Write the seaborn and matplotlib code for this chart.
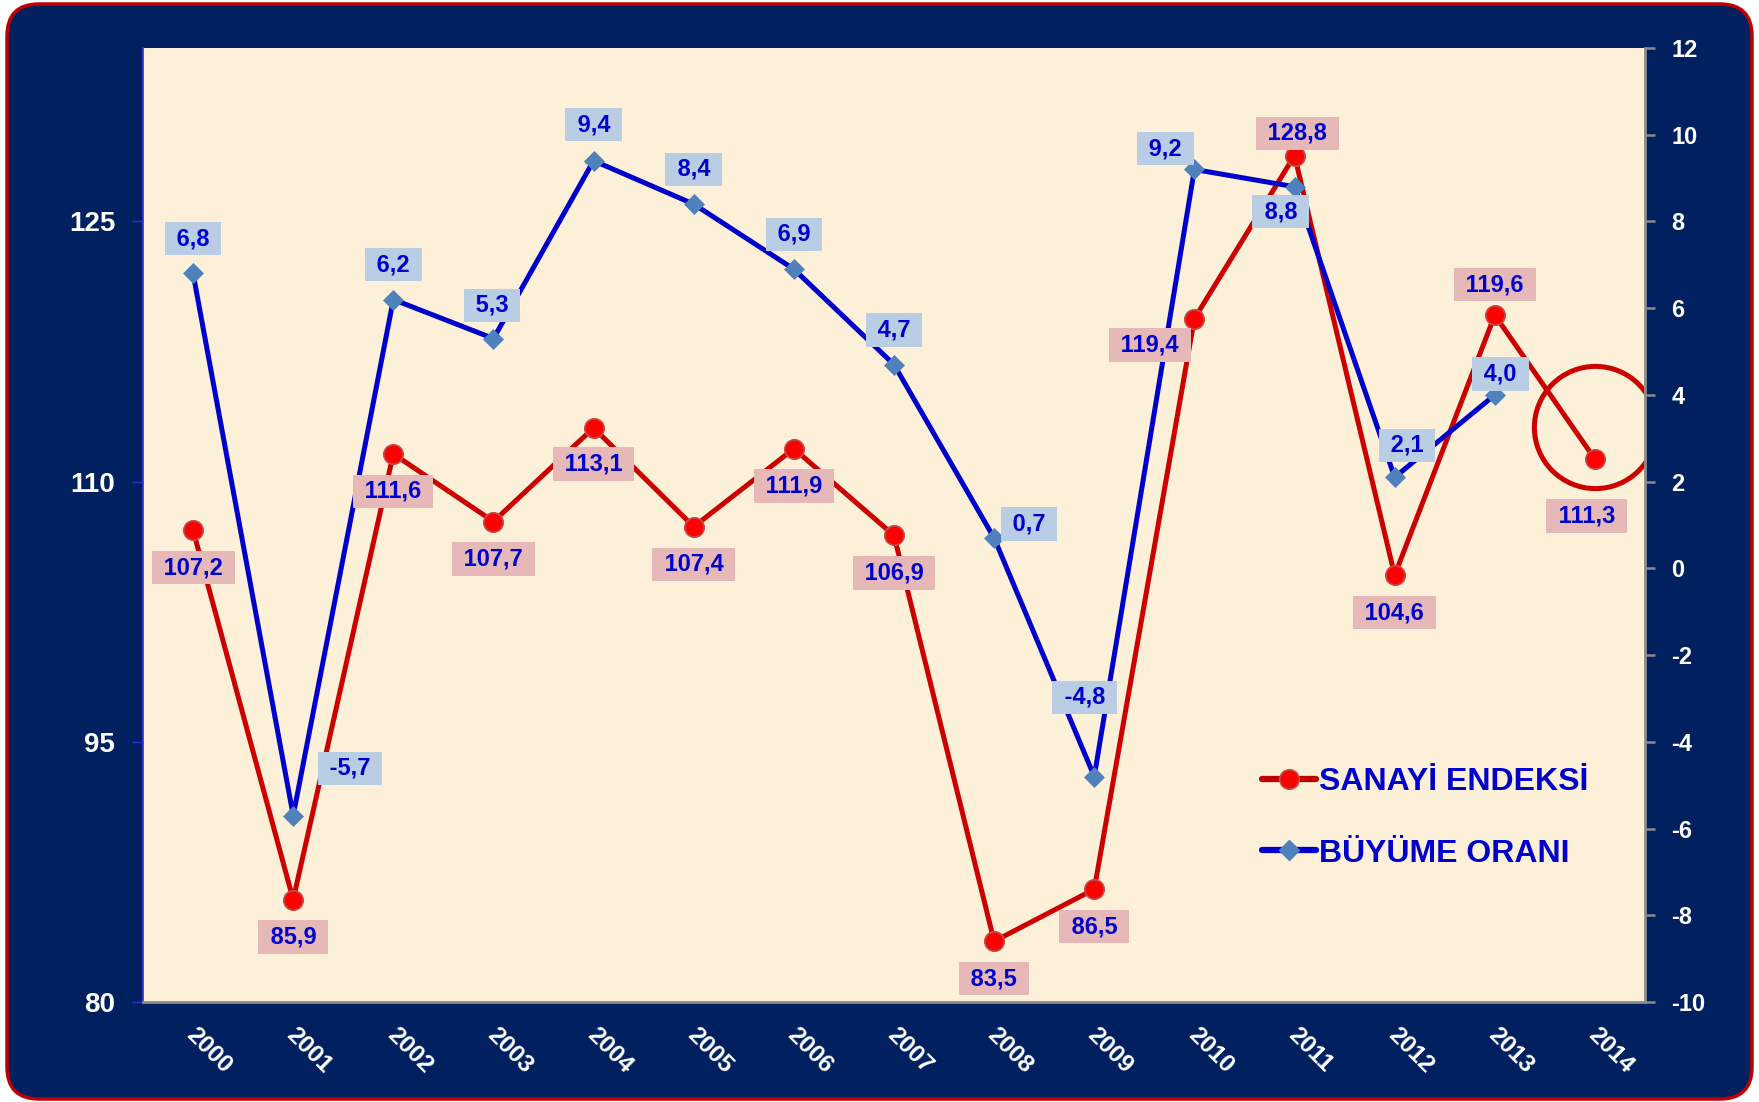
import matplotlib
matplotlib.use('Agg')
import matplotlib.pyplot as plt
import matplotlib.transforms as mtransforms
from matplotlib.patches import FancyBboxPatch
from matplotlib.lines import Line2D
import seaborn as sns
import pandas as pd
import numpy as np

# ---------------- data ----------------
years = ['2000', '2001', '2002', '2003', '2004', '2005', '2006', '2007',
         '2008', '2009', '2010', '2011', '2012', '2013', '2014']
sanayi = [107.2, 85.9, 111.6, 107.7, 113.1, 107.4, 111.9, 106.9,
          83.5, 86.5, 119.4, 128.8, 104.6, 119.6, 111.3]
buyume = [6.8, -5.7, 6.2, 5.3, 9.4, 8.4, 6.9, 4.7,
          0.7, -4.8, 9.2, 8.8, 2.1, 4.0, np.nan]
left_ticks = [80, 95, 110, 125]
right_ticks = [-10, -8, -6, -4, -2, 0, 2, 4, 6, 8, 10, 12]
series_names = ['SANAYİ ENDEKSİ', 'BÜYÜME ORANI']

# label offsets (points) relative to each point
buyume_off = [(0, 25), (41, 34), (0, 25), (-1, 24), (0, 26), (0, 25), (0, 25),
              (0, 25), (25, 10), (-7, 57), (-21, 15), (-10, -18), (9, 23), (4, 15)]
sanayi_off = [(0, -27), (0, -27), (0, -27), (0, -27), (0, -26), (0, -27), (0, -27),
              (0, -27), (0, -27), (0, -27), (-32, -19), (2, 16), (0, -27), (0, 22),
              (-6, -41)]

NAVY = '#002060'
RED_LINE = '#cc0000'
RED_MK = '#ff0000'
BLUE_LINE = '#0000cc'
BLUE_MK = '#4f81bd'
TXT_BLUE = '#0000cc'
BOX_BLUE = '#b9cde5'
BOX_RED = '#e6b9b8'
CREAM = '#fcf0d8'
GREY = '#8c8c8c'

sns.set_theme(style='white')
plt.rcParams['font.family'] = ['Liberation Sans', 'DejaVu Sans']
plt.rcParams['font.weight'] = 'bold'

fig = plt.figure(figsize=(17.59, 11.02), dpi=100)
fig.patch.set_facecolor('white')

# rounded navy panel with red border
panel = FancyBboxPatch((0.07, 0.03), 17.45, 10.95,
                       boxstyle='round,pad=0,rounding_size=0.32',
                       transform=fig.dpi_scale_trans,
                       facecolor=NAVY, edgecolor='#c00000', linewidth=2.5,
                       zorder=-10)
fig.patches.append(panel)

ax = fig.add_axes([143 / 1759, 1 - 1002 / 1102, (1645 - 143) / 1759, (1002 - 48) / 1102])
ax.set_facecolor(CREAM)
ax2 = ax.twinx()

df = pd.DataFrame({'pos': np.arange(len(years)), 'year': years,
                   'sanayi': sanayi, 'buyume': buyume})

sns.lineplot(data=df, x='pos', y='sanayi', ax=ax, color=RED_LINE, linewidth=3.6,
             marker='o', markersize=14, markerfacecolor=RED_MK,
             markeredgecolor='#c0504d', markeredgewidth=1.2, legend=False)
sns.lineplot(data=df.dropna(), x='pos', y='buyume', ax=ax2, color=BLUE_LINE,
             linewidth=3.6, marker='D', markersize=10, markerfacecolor=BLUE_MK,
             markeredgecolor=BLUE_MK, markeredgewidth=0.5, legend=False)

# highlight circle around last point
circ_tr = ax.transData + mtransforms.ScaledTranslation(0, 32 / 100, fig.dpi_scale_trans)
ax.plot([df['pos'].iloc[-1]], [sanayi[-1]], marker='o', markersize=88,
        markerfacecolor='none', markeredgecolor=RED_LINE, markeredgewidth=3.6,
        transform=circ_tr, zorder=5)

# axes limits
ax.set_xlim(-0.5, len(years) - 0.5)
ax.set_ylim(80, 135)
ax2.set_ylim(-10, 12)

# x ticks
ax.set_xticks(np.arange(len(years)))
ax.set_xticklabels(years, rotation=-45, ha='center', va='top',
                   fontsize=17.5, fontweight='bold', color='white')
ax.set_xticks(np.arange(-0.5, len(years), 1.0), minor=True)
ax.tick_params(axis='x', which='major', length=0, pad=15)
ax.tick_params(axis='x', which='minor', length=7, width=1.8, color=GREY, direction='out')
for lbl in ax.get_xticklabels():
    lbl.set_transform(lbl.get_transform() +
                      mtransforms.ScaledTranslation(16 / 100, 0, fig.dpi_scale_trans))

# left y ticks
ax.set_yticks(left_ticks)
ax.set_yticklabels([str(t) for t in left_ticks], fontsize=20, fontweight='bold', color='white')
ax.tick_params(axis='y', which='major', length=8, width=1, color='#3333cc',
               direction='out', pad=12, left=True)

# right y ticks
ax2.set_yticks(right_ticks)
ax2.set_yticklabels([str(t) for t in right_ticks], fontsize=17, fontweight='bold', color='white')
ax2.tick_params(axis='y', which='major', length=7, width=1.8, color=GREY,
                direction='out', pad=12, right=True)

ax.set_xlabel('')
ax.set_ylabel('')
ax2.set_ylabel('')

# spines
for a in (ax, ax2):
    for s in a.spines.values():
        s.set_visible(False)
ax.spines['left'].set_visible(True)
ax.spines['left'].set_color('#3333dd')
ax.spines['left'].set_linewidth(1.2)
ax.spines['bottom'].set_visible(True)
ax.spines['bottom'].set_color(GREY)
ax.spines['bottom'].set_linewidth(2)
ax2.spines['right'].set_visible(True)
ax2.spines['right'].set_color(GREY)
ax2.spines['right'].set_linewidth(2)
ax.grid(False)
ax2.grid(False)


def fmt(v):
    return ('%.1f' % v).replace('.', ',')


# data labels
for i, v in enumerate(sanayi):
    dx, dy = sanayi_off[i]
    ax2.annotate(' ' + fmt(v) + ' ', xy=(i, v), xycoords=ax.transData,
                 xytext=(dx, dy), textcoords='offset points',
                 ha='center', va='center', fontsize=17, fontweight='bold',
                 color=TXT_BLUE, zorder=20,
                 bbox=dict(boxstyle='square,pad=0.22', fc=BOX_RED, ec='none'))
for i, v in enumerate(buyume):
    if np.isnan(v):
        continue
    dx, dy = buyume_off[i]
    ax2.annotate(' ' + fmt(v) + ' ', xy=(i, v), xycoords=ax2.transData,
                 xytext=(dx, dy), textcoords='offset points',
                 ha='center', va='center', fontsize=17, fontweight='bold',
                 color=TXT_BLUE, zorder=20,
                 bbox=dict(boxstyle='square,pad=0.22', fc=BOX_BLUE, ec='none'))

# legend
handles = [
    Line2D([], [], color='#c00000', linewidth=4.5, marker='o', markersize=14,
           markerfacecolor=RED_MK, markeredgecolor='#c0504d', markeredgewidth=1.2),
    Line2D([], [], color=BLUE_LINE, linewidth=4.5, marker='D', markersize=10,
           markerfacecolor=BLUE_MK, markeredgecolor=BLUE_MK),
]
leg = ax2.legend(handles, series_names, loc='center left',
                 bbox_to_anchor=(0.745, 0.193), frameon=False,
                 prop={'family': 'Liberation Sans', 'weight': 'bold', 'size': 23},
                 handlelength=1.7, handletextpad=0.1, labelspacing=1.3,
                 borderpad=0, borderaxespad=0)
for t in leg.get_texts():
    t.set_color(TXT_BLUE)
leg.set_zorder(30)

fig.savefig('out.png', dpi=100, facecolor=fig.get_facecolor())
